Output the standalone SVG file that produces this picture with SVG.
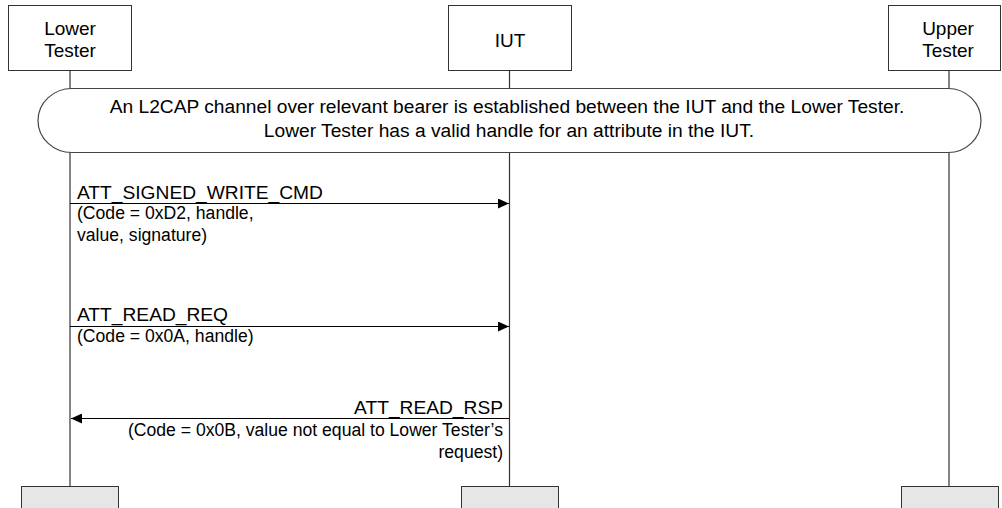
<svg xmlns="http://www.w3.org/2000/svg" width="1002" height="508" viewBox="0 0 1002 508">
<style>
.box{fill:#fff;stroke:#333;stroke-width:1}
.end{fill:#e6e6e6;stroke:#333;stroke-width:1}
.life{stroke:#333;stroke-width:1.2;fill:none}
.t{font-family:"Liberation Sans",Arial,sans-serif;fill:#000}
.bl{font-size:19px;text-anchor:middle}
.ml{font-size:19.2px}
.sl{font-size:17.6px}
.msg{stroke:#000;stroke-width:1;fill:none}
</style>
<defs>
<marker id="ah" markerWidth="12" markerHeight="10" refX="11" refY="5" orient="auto" markerUnits="userSpaceOnUse">
<path d="M0,0 L11,5 L0,10 Z" fill="#000"/>
</marker>
</defs>
<g id="lifelines">
<line class="life" x1="70" y1="71" x2="70" y2="486"/>
<line class="life" x1="509.5" y1="71" x2="509.5" y2="486"/>
<line class="life" x1="949" y1="71" x2="949" y2="486"/>
</g>
<g id="lower-tester">
<rect class="box" x="8.5" y="5.5" width="123" height="65"/>
<text class="t bl" x="70" y="35">Lower</text>
<text class="t bl" x="70" y="57">Tester</text>
</g>
<g id="iut">
<rect class="box" x="448.5" y="5.5" width="123" height="65"/>
<text class="t bl" x="510" y="47">IUT</text>
</g>
<g id="upper-tester">
<rect class="box" x="888.5" y="5.5" width="112" height="65"/>
<text class="t bl" x="948" y="35">Upper</text>
<text class="t bl" x="948" y="57">Tester</text>
</g>
<g id="precondition">
<path d="M72,88.5 L948,88.5 A33,32 0 0 1 948,152.5 L72,152.5 A34,32 0 0 1 72,88.5 Z" fill="#fff" stroke="#444" stroke-width="1.2"/>
<text class="t" font-size="19.2" text-anchor="middle" x="507" y="113">An L2CAP channel over relevant bearer is established between the IUT and the Lower Tester.</text>
<text class="t" font-size="19.2" text-anchor="middle" x="509" y="137">Lower Tester has a valid handle for an attribute in the IUT.</text>
</g>
<g id="connectors">
<line class="msg" x1="70" y1="203.5" x2="509" y2="203.5" marker-end="url(#ah)"/>
<line class="msg" x1="70" y1="326.5" x2="509" y2="326.5" marker-end="url(#ah)"/>
<line class="msg" x1="509" y1="418.5" x2="71" y2="418.5" marker-end="url(#ah)"/>
</g>
<g id="labels">
<text class="t ml" x="77" y="199">ATT_SIGNED_WRITE_CMD</text>
<text class="t sl" x="77" y="219">(Code = 0xD2, handle,</text>
<text class="t sl" x="77" y="241">value, signature)</text>
<text class="t ml" x="77" y="321">ATT_READ_REQ</text>
<text class="t sl" x="77" y="342">(Code = 0x0A, handle)</text>
<text class="t ml" x="503" y="414" text-anchor="end">ATT_READ_RSP</text>
<text class="t sl" x="503" y="436" text-anchor="end">(Code = 0x0B, value not equal to Lower Tester’s</text>
<text class="t sl" x="503" y="458" text-anchor="end">request)</text>
</g>
<g id="ends">
<rect class="end" x="21.5" y="486.5" width="97" height="30"/>
<rect class="end" x="461.5" y="486.5" width="97" height="30"/>
<rect class="end" x="901.5" y="486.5" width="97" height="30"/>
</g>
</svg>
